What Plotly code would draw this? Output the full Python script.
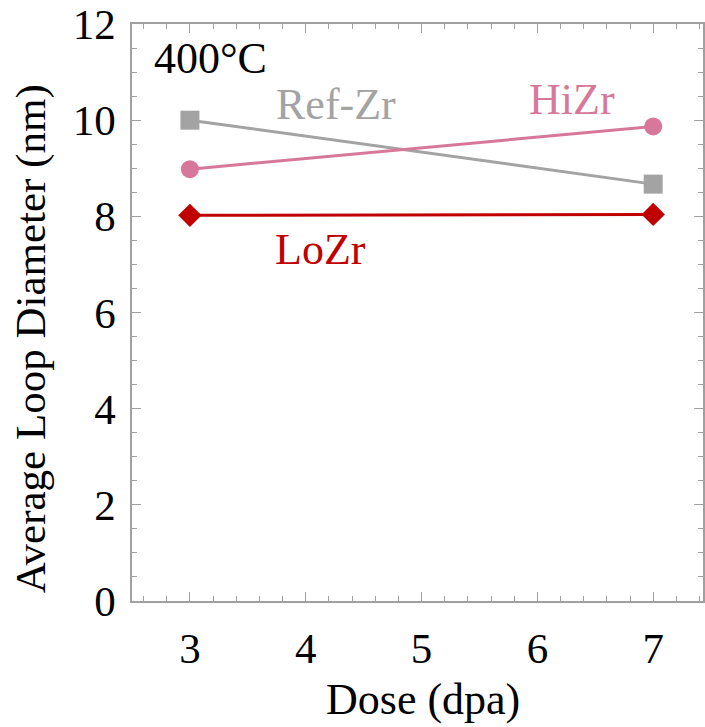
import plotly.graph_objects as go

# Dose (dpa) and average loop diameter (nm) at 400 °C
dose = [3, 7]
ref_zr = [10.0, 8.67]
hi_zr = [8.98, 9.87]
lo_zr = [8.02, 8.04]

x_ticks = [3, 4, 5, 6, 7]
y_ticks = [0, 2, 4, 6, 8, 10, 12]

GREY = "#A3A3A3"
PINK = "#D7789A"
RED = "#C00000"
AXIS = "#A0A0A0"
FONT = "Liberation Serif"

fig = go.Figure()
fig.add_trace(go.Scatter(x=dose, y=ref_zr, mode="lines+markers", name="Ref-Zr",
                         line=dict(color=GREY, width=3),
                         marker=dict(symbol="square", size=19, color=GREY)))
fig.add_trace(go.Scatter(x=dose, y=hi_zr, mode="lines+markers", name="HiZr",
                         line=dict(color=PINK, width=3),
                         marker=dict(symbol="circle", size=18, color=PINK)))
fig.add_trace(go.Scatter(x=dose, y=lo_zr, mode="lines+markers", name="LoZr",
                         line=dict(color=RED, width=3),
                         marker=dict(symbol="diamond", size=18, color=RED)))

labels = [
    ("400°C", 3.18, 11.29, "black"),
    ("Ref-Zr", 4.26, 10.32, GREY),
    ("HiZr", 6.3, 10.42, PINK),
    ("LoZr", 4.13, 7.32, RED),
]
for txt, x, y, col in labels:
    fig.add_annotation(x=x, y=y, text=txt, showarrow=False, xanchor="center",
                       font=dict(family=FONT, size=44, color=col))

# axis titles placed as paper-space annotations
fig.add_annotation(x=-0.1754, y=0.455, xref="paper", yref="paper",
                   text="Average Loop Diameter (nm)", textangle=-90,
                   showarrow=False, xanchor="center", yanchor="middle",
                   font=dict(family=FONT, size=43, color="black"))
fig.add_annotation(x=0.51, y=-0.17, xref="paper", yref="paper",
                   text="Dose (dpa)", showarrow=False,
                   xanchor="center", yanchor="middle",
                   font=dict(family=FONT, size=44, color="black"))

axis_common = dict(
    showline=True, linecolor=AXIS, linewidth=1.5, mirror="ticks",
    ticks="inside", tickcolor=AXIS, ticklen=9, tickwidth=1.2,
    showgrid=False, zeroline=False,
    tickfont=dict(family=FONT, size=43, color="black"),
)

fig.update_xaxes(range=[2.5, 7.43], tickvals=x_ticks, ticklabelstandoff=9,
                 minor=dict(dtick=0.2, ticks="inside", ticklen=5, tickcolor=AXIS, tickwidth=1),
                 **axis_common)
fig.update_yaxes(range=[0, 12], tickvals=y_ticks, ticklabelstandoff=6,
                 minor=dict(dtick=0.5, ticks="inside", ticklen=5, tickcolor=AXIS, tickwidth=1),
                 **axis_common)

fig.update_layout(width=705, height=727, showlegend=False,
                  margin=dict(l=132, r=0, t=24, b=126),
                  plot_bgcolor="white", paper_bgcolor="white")

fig.write_html("out.html")
